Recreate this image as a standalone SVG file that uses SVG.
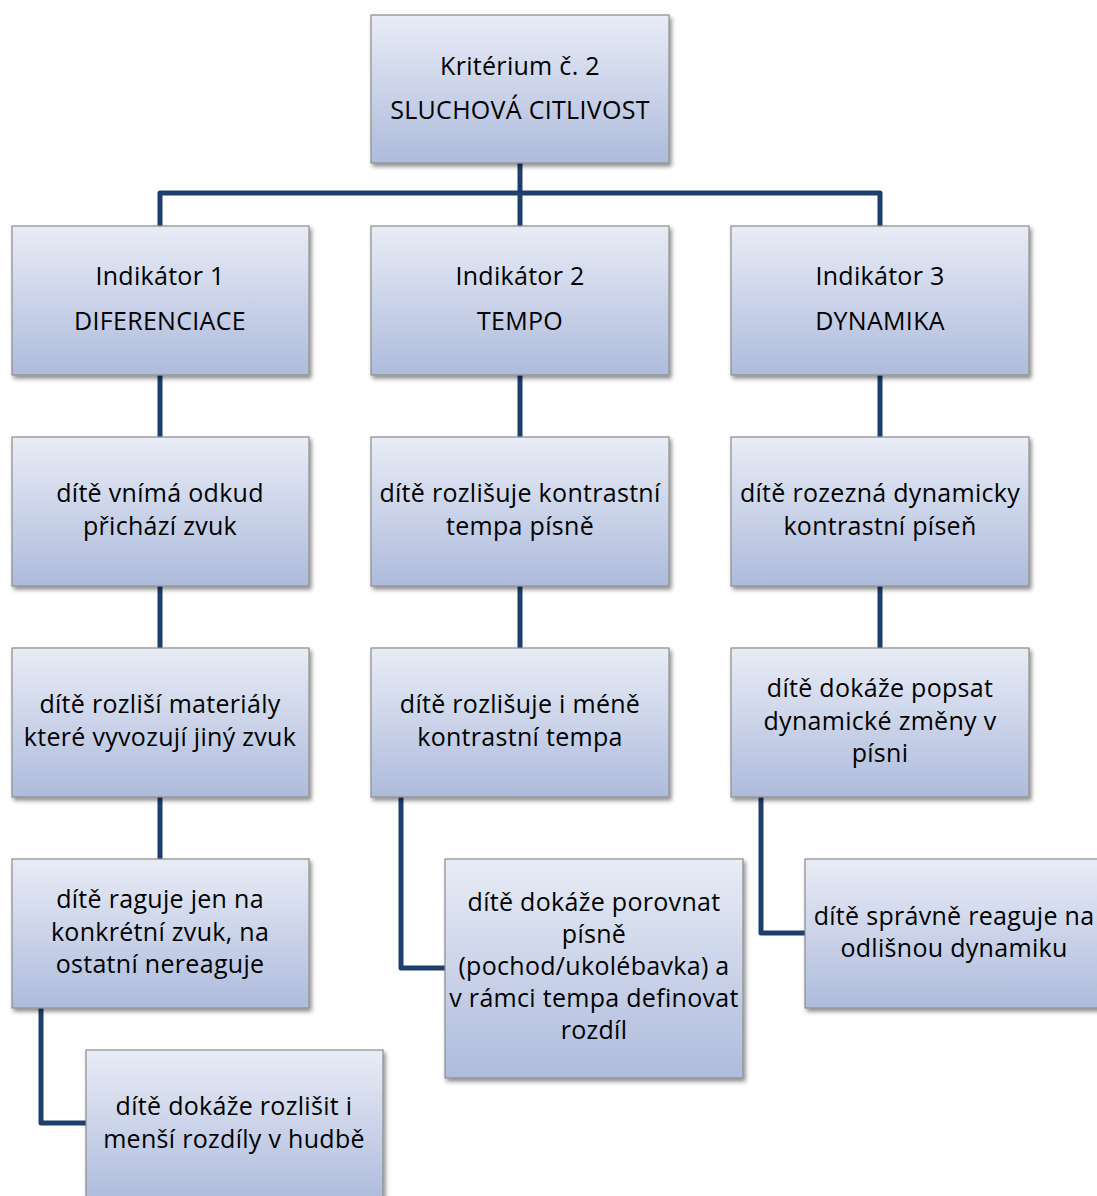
<svg xmlns="http://www.w3.org/2000/svg" width="1097" height="1196" viewBox="0 0 1097 1196">
<defs>
<linearGradient id="g" x1="0" y1="0" x2="0" y2="1">
<stop offset="0" stop-color="#E8ECF6"/>
<stop offset="1" stop-color="#AEBBDC"/>
</linearGradient>
<filter id="sh" x="-10%" y="-10%" width="125%" height="125%">
<feDropShadow dx="2" dy="3" stdDeviation="2" flood-color="#000" flood-opacity="0.45"/>
</filter>
</defs>
<style>
.box{fill:url(#g);stroke:#8C8C8C;stroke-width:1.2;filter:url(#sh)}
.t{font-family:"Open Sans","Liberation Sans",sans-serif;font-size:25px;letter-spacing:0.3px;fill:#000;text-anchor:middle}
.c{fill:none;stroke:#1E3F6E;stroke-width:5;stroke-linejoin:round}
</style>
<rect width="1097" height="1196" fill="#fff"/>
<g id="connectors">
<path class="c" d="M520 163V226M160 226V193H880V226"/>
<path class="c" d="M160 375V437M160 586V648M160 797V859"/>
<path class="c" d="M520 375V437M520 586V648"/>
<path class="c" d="M880 375V437M880 586V648"/>
<path class="c" d="M41 1008V1123H86"/>
<path class="c" d="M401 797V968H445"/>
<path class="c" d="M761 797V933H805"/>
</g>
<g id="n0"><rect class="box" x="371" y="15" width="298" height="148"/>
<text class="t" x="520" y="75">Kritérium č. 2</text><text class="t" x="520" y="119">SLUCHOVÁ CITLIVOST</text></g>
<g id="n1"><rect class="box" x="12" y="226" width="297" height="149"/>
<text class="t" x="160" y="285">Indikátor 1</text><text class="t" x="160" y="330">DIFERENCIACE</text></g>
<g id="n2"><rect class="box" x="371" y="226" width="298" height="149"/>
<text class="t" x="520" y="285">Indikátor 2</text><text class="t" x="520" y="330">TEMPO</text></g>
<g id="n3"><rect class="box" x="731" y="226" width="298" height="149"/>
<text class="t" x="880" y="285">Indikátor 3</text><text class="t" x="880" y="330">DYNAMIKA</text></g>
<g id="n4"><rect class="box" x="12" y="437" width="297" height="149"/>
<text class="t" x="160" y="502">dítě vnímá odkud</text><text class="t" x="160" y="535">přichází zvuk</text></g>
<g id="n5"><rect class="box" x="371" y="437" width="298" height="149"/>
<text class="t" x="520" y="502">dítě rozlišuje kontrastní</text><text class="t" x="520" y="535">tempa písně</text></g>
<g id="n6"><rect class="box" x="731" y="437" width="298" height="149"/>
<text class="t" x="880" y="502">dítě rozezná dynamicky</text><text class="t" x="880" y="535">kontrastní píseň</text></g>
<g id="n7"><rect class="box" x="12" y="648" width="297" height="149"/>
<text class="t" x="160" y="713">dítě rozliší materiály</text><text class="t" x="160" y="746">které vyvozují jiný zvuk</text></g>
<g id="n8"><rect class="box" x="371" y="648" width="298" height="149"/>
<text class="t" x="520" y="713">dítě rozlišuje i méně</text><text class="t" x="520" y="746">kontrastní tempa</text></g>
<g id="n9"><rect class="box" x="731" y="648" width="298" height="149"/>
<text class="t" x="880" y="697">dítě dokáže popsat</text><text class="t" x="880" y="730">dynamické změny v</text><text class="t" x="880" y="762">písni</text></g>
<g id="n10"><rect class="box" x="12" y="859" width="297" height="149"/>
<text class="t" x="160" y="908">dítě raguje jen na</text><text class="t" x="160" y="941">konkrétní zvuk, na</text><text class="t" x="160" y="973">ostatní nereaguje</text></g>
<g id="n11"><rect class="box" x="445" y="859" width="298" height="219"/>
<text class="t" x="594" y="911">dítě dokáže porovnat</text><text class="t" x="594" y="943">písně</text><text class="t" x="594" y="975">(pochod/ukolébavka) a</text><text class="t" x="594" y="1007">v rámci tempa definovat</text><text class="t" x="594" y="1039">rozdíl</text></g>
<g id="n12"><rect class="box" x="805" y="859" width="298" height="149"/>
<text class="t" x="954" y="925">dítě správně reaguje na</text><text class="t" x="954" y="957">odlišnou dynamiku</text></g>
<g id="n13"><rect class="box" x="86" y="1050" width="297" height="152"/>
<text class="t" x="234" y="1115">dítě dokáže rozlišit i</text><text class="t" x="234" y="1148">menší rozdíly v hudbě</text></g>
</svg>
